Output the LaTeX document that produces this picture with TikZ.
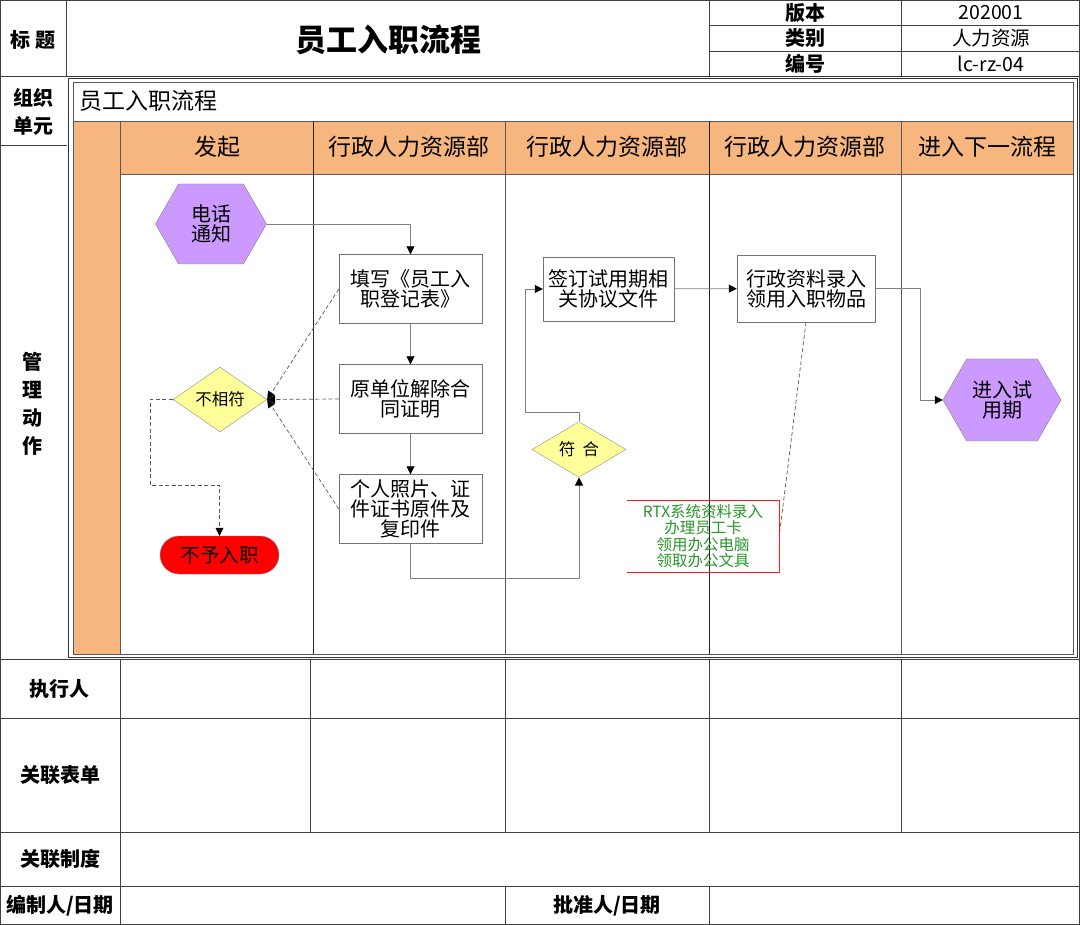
\documentclass[tikz,border=0pt]{standalone}
\usepackage{fontspec}
\setmainfont{Noto Sans CJK SC}
\usetikzlibrary{shapes.geometric,shapes.misc,shapes.symbols,arrows.meta,positioning,calc}
\definecolor{laneorange}{RGB}{247,182,126}
\definecolor{hexpurple}{RGB}{204,153,255}
\definecolor{diayellow}{RGB}{255,255,153}
\definecolor{notegreen}{RGB}{40,150,40}
\tikzset{
tableline/.style = {draw=black!75, line width=0.8pt},
lane/.style = {draw=black!65, line width=0.8pt},
rowtitle/.style = {font=\fontsize{20}{28}\selectfont\bfseries, align=center, inner sep=0pt},
head/.style = {font=\fontsize{23}{24}\selectfont, inner sep=0pt},
cell/.style = {font=\fontsize{19.5}{20}\selectfont, inner sep=0pt},
block/.style = {draw=black!55, fill=white, rectangle, minimum width=143pt, minimum height=69pt, inner sep=0pt, align=center, font=\fontsize{20}{20}\selectfont},
hexa/.style = {draw=black!50, fill=hexpurple, signal, signal to=east and west, signal pointer angle=120, inner sep=0pt, align=center, font=\fontsize{20}{20}\selectfont},
decision/.style = {draw=black!45, fill=diayellow, diamond, minimum width=94pt, minimum height=45pt, inner sep=0pt, font=\fontsize{16.5}{17}\selectfont},
terminal/.style = {draw=black!45, fill=red, rounded rectangle, minimum width=119pt, minimum height=38pt, inner sep=0pt, font=\fontsize{19.5}{20}\selectfont},
remark/.style = {rectangle, minimum width=152pt, minimum height=72pt, inner sep=0pt, align=center, text=notegreen, font=\fontsize{15.5}{16.5}\selectfont},
conn/.style = {draw=black!50, line width=0.8pt},
hint/.style = {draw=black!65, line width=0.7pt, dash pattern=on 4pt off 2.5pt},
tmp/.style = {coordinate}
}

\begin{document}
\begin{tikzpicture}[x=1pt, y=-1pt, >={Triangle[black,length=8pt,width=8pt]}]
  \useasboundingbox (0,0) rectangle (1080,925);
  % orange lane header and side column
  \fill[laneorange] (120,121) rectangle (1073,174);
  \fill[laneorange] (73,121) rectangle (120,654);

  % outer table and header block
  \draw[tableline] (0.5,0.5) rectangle (1079,924);
  \draw[tableline] (66.5,0) -- (66.5,77);
  \draw[tableline] (709,0) -- (709,77);
  \draw[tableline] (901,0) -- (901,77);
  \draw[tableline] (709,25) -- (1079,25);
  \draw[tableline] (709,51) -- (1079,51);
  \draw[tableline] (0,76.8) -- (68,76.8);
  \draw[tableline] (0,145) -- (66.5,145);

  % swimlane frame
  \draw[draw=black!80, double, double distance=1.2pt, line width=0.6pt] (67.7,77.7) rectangle (1078.1,658.1);
  \draw[lane] (73,82) rectangle (1073,654);
  \draw[lane] (73,121) -- (1073,121);
  \draw[lane] (120,174) -- (1073,174);
  \draw[lane] (120,121) -- (120,654);
  \draw[draw=black!85, line width=0.8pt] (313,121) -- (313,654);
  \draw[lane] (505,121) -- (505,654);
  \draw[draw=black!85, line width=0.8pt] (709,121) -- (709,654);
  \draw[lane] (901,121) -- (901,654);

  % bottom table
  \draw[tableline] (0,659) -- (1079,659);
  \draw[tableline] (0,718) -- (1079,718);
  \draw[tableline] (0,832) -- (1079,832);
  \draw[tableline] (0,886) -- (1079,886);
  \draw[tableline] (120,659) -- (120,924);
  \draw[tableline] (310,659) -- (310,832);
  \draw[tableline] (505,659) -- (505,832);
  \draw[tableline] (709,659) -- (709,832);
  \draw[tableline] (901,659) -- (901,832);
  \draw[tableline] (505,886) -- (505,924);
  \draw[tableline] (709,886) -- (709,924);

  % header texts
  \node [rowtitle] (tcell)   at (33,40)   {标 题};
  \node [font=\fontsize{31}{31}\selectfont\bfseries, inner sep=0pt] (title) at (388,40) {员工入职流程};
  \node [rowtitle] (vkey)    at (805,13)  {版本};
  \node [rowtitle] (ckey)    at (805,38)  {类别};
  \node [rowtitle] (nkey)    at (805,64)  {编号};
  \node [cell]     (vval)    at (991,13)  {202001};
  \node [cell]     (cval)    at (991,38)  {人力资源};
  \node [cell]     (nval)    at (991,64)  {lc-rz-04};
  \node [rowtitle] (orgcell) at (33,112)  {组织\\单元};
  \node [rowtitle] (actcell) at (33,404)  {管\\理\\动\\作};
  \node [head, anchor=west] (unit) at (79,101) {员工入职流程};

  % lane headers
  \node [head] (lanea) at (217,147) {发起};
  \node [head] (laneb) at (409,147) {行政人力资源部};
  \node [head] (lanec) at (607,147) {行政人力资源部};
  \node [head] (laned) at (805,147) {行政人力资源部};
  \node [head] (lanee) at (987,147) {进入下一流程};

  % bottom table texts
  \node [rowtitle] (doer)    at (60,689)  {执行人};
  \node [rowtitle] (forms)   at (60,775)  {关联表单};
  \node [rowtitle] (rules)   at (60,859)  {关联制度};
  \node [rowtitle] (author)  at (60,906)  {编制人/日期};
  \node [rowtitle] (approve) at (607,906) {批准人/日期};

  % flow nodes
  \node [hexa, minimum width=111pt, minimum height=80pt] (start) at (211,224) {电话\\通知};
  \node [block] (blocka) at (410.5,289) {填写《员工入\\职登记表》};
  \node [block, below of=blocka, node distance=110pt] (blockb) {原单位解除合\\同证明};
  \node [block, below of=blockb, node distance=110pt] (blockc) {个人照片、证\\件证书原件及\\复印件};
  \node [decision] (nomatch) at (220,399.5) {不相符};
  \node [terminal] (reject) at (219.5,555) {不予入职};
  \node [block, minimum width=131pt, minimum height=64pt] (blockd) at (608.5,289) {签订试用期相\\关协议文件};
  \node [block, minimum width=138pt, minimum height=67pt] (blocke) at (806,288.5) {行政资料录入\\领用入职物品};
  \node [decision] (match) at (579,449.5) {符\ \ 合};
  \node [hexa, minimum width=118pt, minimum height=82pt] (finish) at (1002,400) {进入试\\用期};
  \node [remark] (note) at (703,536) {RTX系统资料录入\\办理员工卡\\领用办公电脑\\领取办公文具};
  \node [tmp] (tmp1) at (150,485) {};
  \node [tmp] (tmp2) at (579,578) {};
  \node [tmp] (tmp3) at (525,412) {};
  \node [tmp] (tmp4) at (920,400) {};

  \draw [red!90, line width=0.6pt] (note.north west) -- (note.north east) -- (note.south east) -- (note.south west);

  % connectors
  \draw [conn, ->] (start) -| (blocka);
  \draw [conn, ->] (blocka) -- (blockb);
  \draw [conn, ->] (blockb) -- (blockc);
  \draw [hint, ->] (blocka.west) -- (nomatch.east);
  \draw [hint, ->] (blockb.west) -- (nomatch.east);
  \draw [hint, ->] (blockc.west) -- (nomatch.east);
  \draw [hint, ->] (nomatch.west) -| (tmp1) -- (tmp1 -| reject.north) -- (reject.north);
  \draw [conn, ->] (blockc.south) |- (tmp2) -- (match.south);
  \draw [conn, ->] (match.north) |- (tmp3) |- (blockd.west);
  \draw [conn, ->] (blockd) -- (blocke);
  \draw [conn, ->] (blocke.east) -| (tmp4) -- (finish.west);
  \draw [hint] (blocke.south) -- (note.east);
\end{tikzpicture}
\end{document}
